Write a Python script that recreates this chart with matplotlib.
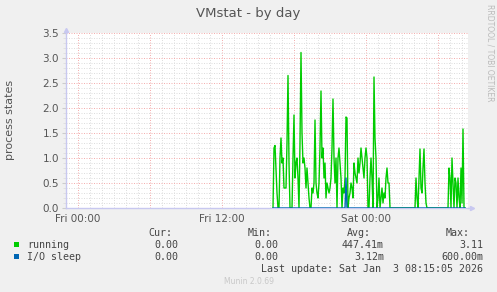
import numpy as np
import matplotlib.pyplot as plt
from matplotlib.ticker import MultipleLocator, FixedLocator
from matplotlib.patches import Rectangle

# samples every 5 minutes, first one at Fri 16:15 (hours from Fri 00:00)
start_hour = 16.25
step_hour = 5 / 60

running = [0, 1.2, 1.25, 0.8, 0.3, 0, 0, 1.0, 1.4, 0.9,
           1.0, 0.4, 0.4, 0.4, 1.3, 2.65, 0.9, 0, 0, 0,
           1.0, 1.86, 0.6, 0.9, 1.0, 0.6, 0, 1.3, 3.11, 1.5,
           0.9, 1.0, 0.8, 0.4, 0.8, 0.5, 0.2, 0, 0, 0.4,
           0.3, 0.5, 1.76, 0.5, 0.3, 0.2, 0.5, 1.2, 2.34, 1.0,
           1.2, 0.6, 0.9, 0.2, 0.5, 0.4, 0.3, 0.4, 0.6, 1.2,
           2.18, 1.0, 0.5, 1.0, 0, 1.0, 1.2, 0.9, 0.6, 0,
           0.4, 0.3, 0.6, 1.82, 1.8, 0, 0.2, 0.3, 0.5, 0.4,
           0.2, 0.9, 0.7, 0.6, 0.5, 1.0, 0.7, 0.9, 1.2, 1.0,
           0.8, 0.6, 1.0, 1.2, 1.0, 0, 0, 0.6, 1.0, 0.6,
           0, 2.62, 1.4, 1.0, 0, 0.2, 0.6, 0, 0.2, 0.4,
           0.1, 0.3, 0.2, 0.6, 0.8, 0.5, 0.5, 0,
           0, 0, 0, 0, 0, 0, 0, 0, 0, 0, 0, 0, 0,
           0, 0, 0, 0, 0, 0, 0, 0, 0, 0, 0, 0,
           0.6, 0.2, 0, 0.6, 1.18, 0.4, 0.3, 0.8, 1.18, 0.5,
           0.1, 0,
           0, 0, 0, 0, 0, 0, 0, 0, 0, 0, 0,
           0, 0, 0, 0, 0, 0, 0, 0, 0, 0,
           0.8, 0.6, 0, 1.0, 0.5, 0, 0.6, 0.5, 0, 0.6,
           0.2, 0, 0.8, 0.1, 1.58, 0, 0]
io_sleep = [0.0] * len(running)
io_sleep[73] = 0.6

tick_pos = [0, 6, 12, 18, 24, 30]
tick_labels = ['Fri 00:00', '', 'Fri 12:00', '', 'Sat 00:00', '']

legend_names = ['running', 'I/O sleep']
legend_colors = ['#00CC00', '#0066B3']
cur_vals = ['0.00', '0.00']
min_vals = ['0.00', '0.00']
avg_vals = ['447.41m', '3.12m']
max_vals = ['3.11', '600.00m']

hours = start_hour + np.arange(len(running)) * step_hour

W, H = 497, 292
fig = plt.figure(figsize=(W / 100, H / 100), dpi=100, facecolor='#F0F0F0')
ax = fig.add_axes([66 / W, 84 / H, 402 / W, 175 / H])
ax.set_facecolor('white')

ax.plot(hours, running, color=legend_colors[0], lw=1.0, zorder=3)
ax.plot(hours, io_sleep, color=legend_colors[1], lw=1.0, zorder=4)

ax.set_xlim(-1.0, 32.5)
ax.set_ylim(0, 3.5)

ax.xaxis.set_major_locator(FixedLocator(tick_pos))
ax.set_xticklabels(tick_labels)
ax.xaxis.set_minor_locator(MultipleLocator(1))
ax.yaxis.set_major_locator(MultipleLocator(0.5))
ax.yaxis.set_minor_locator(MultipleLocator(0.1))
ax.yaxis.set_major_formatter(plt.FormatStrFormatter('%.1f'))

ax.grid(which='minor', color='#DEDEDE', linestyle=(0, (1, 1.5)), linewidth=0.72)
ax.grid(which='major', color='#F4B0B0', linestyle=(0, (1, 1.5)), linewidth=0.72)
ax.set_axisbelow(True)

ax.tick_params(axis='x', which='both', length=0, labelsize=7.5, labelcolor='#555555', pad=4)
ax.tick_params(axis='y', which='major', length=3, color='#CCCCCC', labelsize=7.5,
               labelcolor='#555555', pad=2)
ax.tick_params(axis='y', which='minor', length=2, color='#DDDDDD')

for s in ['top', 'right']:
    ax.spines[s].set_visible(False)
for s in ['left', 'bottom']:
    ax.spines[s].set_color('#C8C8F0')
    ax.spines[s].set_linewidth(1.0)

# axis arrows like rrdtool
ax.plot([1.0, 1.008], [0, 0], transform=ax.transAxes, color='#C8C8F0', lw=1, clip_on=False)
ax.plot([1.01], [0], marker='>', ms=3, color='#C8C8F0', transform=ax.transAxes, clip_on=False)
ax.plot([0, 0], [1.0, 1.01], transform=ax.transAxes, color='#C8C8F0', lw=1, clip_on=False)
ax.plot([0], [1.015], marker='^', ms=3, color='#C8C8F0', transform=ax.transAxes, clip_on=False)

fig.text(0.5, 1 - 13 / H, 'VMstat - by day', ha='center', va='center',
         fontsize=9.5, color='#555555')
fig.text(10 / W, 1 - 120 / H, 'process states', rotation=90, ha='center', va='center',
         fontsize=8, color='#555555')
fig.text(490 / W, 1 - 4 / H, 'RRDTOOL / TOBI OETIKER', rotation=270, ha='center', va='top',
         fontsize=5.5, color='#BBBBBB')

mono = dict(family='DejaVu Sans Mono', fontsize=7.2, color='#444444', va='center')
fig.text(172 / W, 1 - 233 / H, 'Cur:', ha='right', **mono)
fig.text(272 / W, 1 - 233 / H, 'Min:', ha='right', **mono)
fig.text(371 / W, 1 - 233 / H, 'Avg:', ha='right', **mono)
fig.text(470 / W, 1 - 233 / H, 'Max:', ha='right', **mono)

for i, name in enumerate(legend_names):
    y = 1 - (244.5 + 12.2 * i) / H
    fig.patches.append(Rectangle((14 / W, y - 2.5 / H), 5 / W, 5 / H, transform=fig.transFigure,
                                 facecolor=legend_colors[i], edgecolor='none'))
    fig.text(27 / W, y, name, ha='left', **mono)
    fig.text(178 / W, y, cur_vals[i], ha='right', **mono)
    fig.text(278 / W, y, min_vals[i], ha='right', **mono)
    fig.text(384 / W, y, avg_vals[i], ha='right', **mono)
    fig.text(483 / W, y, max_vals[i], ha='right', **mono)

fig.text(483 / W, 1 - 269 / H, 'Last update: Sat Jan  3 08:15:05 2026', ha='right', **mono)
fig.text(249 / W, 1 - 281 / H, 'Munin 2.0.69', ha='center', va='center',
         fontsize=5.5, color='#C8C8C8')

fig.savefig('out.png', dpi=100, facecolor=fig.get_facecolor())
